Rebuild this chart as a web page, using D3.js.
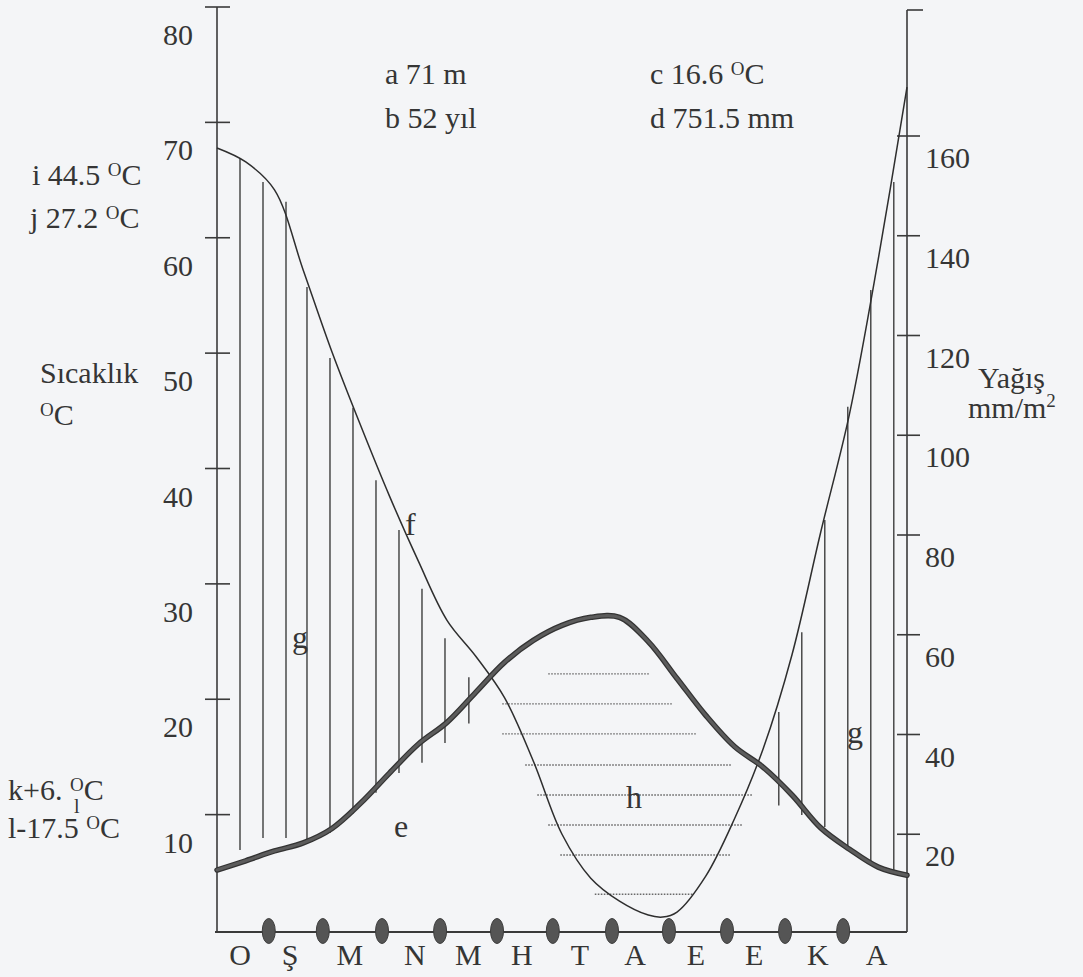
<!DOCTYPE html>
<html>
<head>
<meta charset="utf-8">
<script src="https://cdn.jsdelivr.net/npm/d3@7"></script>
<style>
  html, body { margin: 0; padding: 0; background: #f4f5f7; }
  svg { display: block; }
  text { font-family: "Liberation Serif", "Times New Roman", "DejaVu Serif", serif; fill: #353535; }
</style>
</head>
<body>
<svg id="chart" width="1083" height="977" font-family="Liberation Serif, serif"></svg>
<script>
// ---------- data ----------
const months = ["O", "Ş", "M", "N", "M", "H", "T", "A", "E", "E", "K", "A"];
const monthLabelPos = [0.40, 1.27, 2.31, 3.44, 4.37, 5.30, 6.31, 7.27, 8.33, 9.34, 10.45, 11.47];
const monthBreaks = [0.90, 1.84, 2.87, 3.88, 4.87, 5.84, 6.87, 7.86, 8.87, 9.88, 10.89];

const tempTicks = [10, 20, 30, 40, 50, 60, 70, 80];
const precipTicks = [20, 40, 60, 80, 100, 120, 140, 160];

// temperature curve (e), °C, left scale
const tempPos = [0, 0.5, 1, 1.5, 2, 2.5, 3, 3.5, 4, 4.5, 5, 5.5, 6, 6.5, 7, 7.5, 8, 8.5, 9, 9.5, 10, 10.5, 11, 11.5, 12];
const tempValues = [5.2, 6.0, 6.85, 7.55, 8.8, 11.0, 13.6, 16.1, 18.0, 20.6, 23.2, 25.1, 26.4, 27.1, 27.1, 25.0, 21.8, 18.6, 15.9, 14.1, 11.7, 8.85, 7.0, 5.45, 4.75];

// precipitation curve (f), mm, right scale
const precipPos = [0, 0.5, 1, 1.5, 2, 2.5, 3, 3.5, 4, 4.5, 5, 5.5, 6, 6.5, 7, 7.5, 7.75, 8, 8.5, 9, 9.5, 10, 10.5, 11, 11.5, 12];
const precipValues = [157.6, 154.8, 149.2, 133.1, 116.7, 101.9, 87.8, 74.8, 62.9, 55.7, 47.4, 34.7, 20.0, 11.2, 6.6, 3.8, 3.4, 4.4, 11.6, 23.1, 37.2, 56.0, 80.6, 104.3, 135.3, 169.8];

// humid period hatching (g): position, top (mm), bottom (°C)
const humidPos = [0.40, 0.80, 1.20, 1.565, 1.965, 2.365, 2.765, 3.165, 3.565, 3.965, 4.38, 9.77, 10.17, 10.57, 10.97, 11.37, 11.77];
const humidTop = [155.6, 150.8, 146.8, 129.7, 115.5, 105.5, 91.0, 81.0, 69.2, 59.3, 51.5, 44.5, 60.5, 83.0, 105.7, 129.1, 150.8];
const humidBottom = [6.93, 7.97, 7.97, 7.63, 8.4, 10.1, 11.9, 13.6, 14.5, 16.2, 17.9, 10.8, 9.97, 8.93, 7.2, 5.9, 5.2];

// arid period dotted lines (h): level (°C), from, to (month position)
const aridLevel = [22.2, 19.6, 17.0, 14.3, 11.7, 9.1, 6.5, 3.1];
const aridFrom = [5.76, 4.96, 4.96, 5.36, 5.57, 5.76, 5.97, 6.57];
const aridTo = [7.53, 7.93, 8.35, 8.96, 9.32, 9.13, 8.92, 8.28];

// ---------- layout ----------
const svg = d3.select("#chart");
const x = d3.scaleLinear().domain([0, 12]).range([217, 907]);
const yT = d3.scaleLinear().domain([0, 80]).range([930, 7]);
const yP = d3.scaleLinear().domain([0, 160]).range([934, 136]);
const baseY = 932;
const ink = "#3a3a3a";
const FS = 30;

// axes
svg.append("line").attr("x1", x(0)).attr("x2", x(0)).attr("y1", yT(80)).attr("y2", baseY)
  .attr("stroke", ink).attr("stroke-width", 1.6);
svg.append("line").attr("x1", x(12)).attr("x2", x(12)).attr("y1", 10).attr("y2", baseY)
  .attr("stroke", ink).attr("stroke-width", 1.6);
svg.append("line").attr("x1", x(0) - 2).attr("x2", x(12)).attr("y1", baseY).attr("y2", baseY)
  .attr("stroke", ink).attr("stroke-width", 1.8);

// left ticks + labels
tempTicks.forEach(v => {
  svg.append("line").attr("x1", x(0) - 12).attr("x2", x(0) + 13)
    .attr("y1", yT(v)).attr("y2", yT(v)).attr("stroke", ink).attr("stroke-width", 1.6);
  svg.append("text").attr("x", 193).attr("y", yT(v) + 38).attr("text-anchor", "end")
    .attr("font-size", FS).text(v);
});
// right ticks + labels
svg.append("line").attr("x1", x(12)).attr("x2", x(12) + 16).attr("y1", 10).attr("y2", 10)
  .attr("stroke", ink).attr("stroke-width", 1.6);
precipTicks.forEach(v => {
  svg.append("line").attr("x1", x(12) - 10).attr("x2", x(12) + 13)
    .attr("y1", yP(v)).attr("y2", yP(v)).attr("stroke", ink).attr("stroke-width", 1.6);
  svg.append("text").attr("x", 925).attr("y", yP(v) + 32).attr("text-anchor", "start")
    .attr("font-size", FS).text(v);
});

// arid dotted lines
aridLevel.forEach((lv, i) => {
  svg.append("line").attr("x1", x(aridFrom[i])).attr("x2", x(aridTo[i]))
    .attr("y1", yT(lv)).attr("y2", yT(lv))
    .attr("stroke", "#6a6a6a").attr("stroke-width", 1.4).attr("stroke-dasharray", "1.6,1.4");
});

// humid vertical lines
humidPos.forEach((p, i) => {
  svg.append("line").attr("x1", x(p)).attr("x2", x(p))
    .attr("y1", yP(humidTop[i])).attr("y2", yT(humidBottom[i]))
    .attr("stroke", "#4a4a4a").attr("stroke-width", 1.5);
});

// precipitation curve (thin)
const precipLine = d3.line().x(d => x(d[0])).y(d => yP(d[1])).curve(d3.curveCatmullRom.alpha(0.5));
svg.append("path").datum(precipPos.map((p, i) => [p, precipValues[i]]))
  .attr("d", precipLine).attr("fill", "none").attr("stroke", "#2e2e2e").attr("stroke-width", 1.5);

// temperature curve (thick)
const tempLine = d3.line().x(d => x(d[0])).y(d => yT(d[1])).curve(d3.curveCatmullRom.alpha(0.5));
const tdata = tempPos.map((p, i) => [p, tempValues[i]]);
svg.append("path").datum(tdata).attr("d", tempLine).attr("fill", "none")
  .attr("stroke", "#333").attr("stroke-width", 5.5).attr("stroke-linecap", "round");
svg.append("path").datum(tdata).attr("d", tempLine).attr("fill", "none")
  .attr("stroke", "#5c5c5c").attr("stroke-width", 3).attr("stroke-linecap", "round");

// month break dots
monthBreaks.forEach(b => {
  svg.append("ellipse").attr("cx", x(b)).attr("cy", baseY - 1).attr("rx", 6.5).attr("ry", 12.5)
    .attr("fill", "#555").attr("stroke", "#3c3c3c").attr("stroke-width", 1);
});

// month labels
months.forEach((m, i) => {
  svg.append("text").attr("x", x(monthLabelPos[i])).attr("y", 965).attr("text-anchor", "middle")
    .attr("font-size", FS).text(m);
});

// helper for text with superscript "O" + "C"
function degText(xp, yp, prefix) {
  const t = svg.append("text").attr("x", xp).attr("y", yp).attr("font-size", FS);
  t.append("tspan").text(prefix);
  t.append("tspan").attr("font-size", 19).attr("dy", -9).text("O");
  t.append("tspan").attr("dy", 9).text("C");
  return t;
}
function plainText(xp, yp, s, size) {
  return svg.append("text").attr("x", xp).attr("y", yp).attr("font-size", size || FS).text(s);
}

// header info
plainText(385, 84, "a 71 m");
plainText(385, 128, "b 52 yıl");
degText(650, 84, "c 16.6 ");
plainText(650, 128, "d 751.5 mm");

// left info
degText(32, 185, "i 44.5 ");
degText(30, 228, "j 27.2 ");
plainText(40, 383, "Sıcaklık");
degText(40, 425, "");
degText(8, 800, "k+6. ");
degText(8, 838, "l-17.5 ");
plainText(74, 813, "l", 20);

// right title
plainText(978, 388, "Yağış");
const mm = svg.append("text").attr("x", 968).attr("y", 418).attr("font-size", FS);
mm.append("tspan").text("mm/m");
mm.append("tspan").attr("font-size", 19).attr("dy", -11).text("2");

// curve letters
plainText(405, 535, "f", 32);
plainText(292, 648, "g", 32);
plainText(394, 837, "e", 32);
plainText(626, 808, "h", 32);
plainText(847, 743, "g", 32);
</script>
</body>
</html>
